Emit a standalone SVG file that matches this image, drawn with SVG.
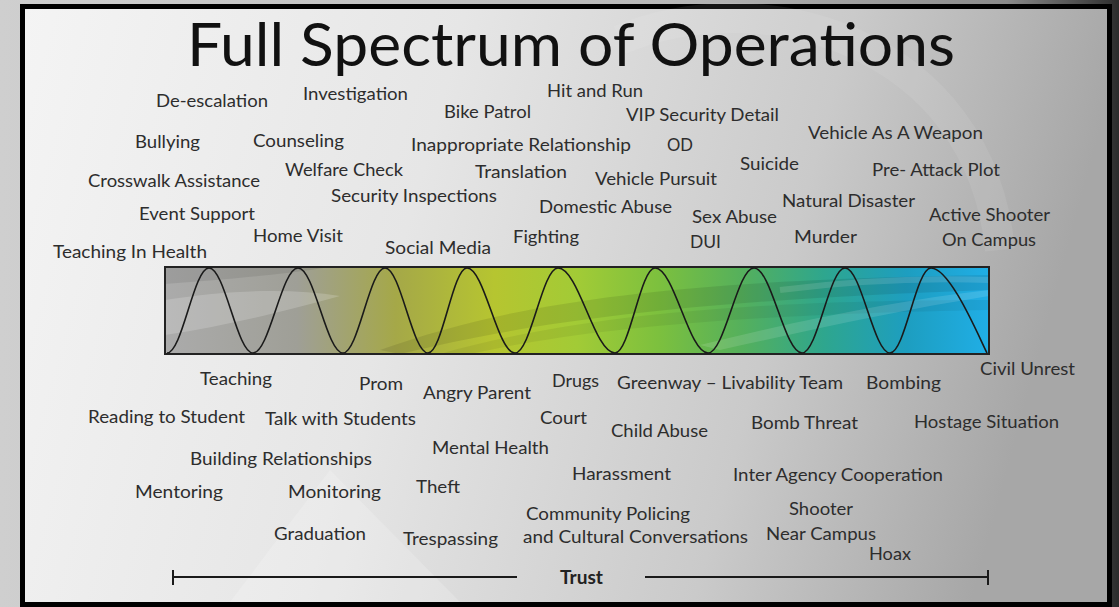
<svg xmlns="http://www.w3.org/2000/svg" width="1119" height="607" viewBox="0 0 1119 607">
<defs>
<linearGradient id="outer" x1="0" y1="0" x2="1" y2="0">
<stop offset="0" stop-color="#cfcfcf"/>
<stop offset="0.6" stop-color="#b8b8b8"/>
<stop offset="0.9" stop-color="#8a8a8a"/>
<stop offset="0.97" stop-color="#4a4a4a"/>
<stop offset="1" stop-color="#2c2c2c"/>
</linearGradient>
<linearGradient id="panel" x1="0" y1="0" x2="1" y2="0.15">
<stop offset="0" stop-color="#f4f4f4"/>
<stop offset="0.4" stop-color="#e6e6e6"/>
<stop offset="0.75" stop-color="#cacaca"/>
<stop offset="1" stop-color="#a7a7a7"/>
</linearGradient>
<linearGradient id="band" x1="165" y1="0" x2="989" y2="0" gradientUnits="userSpaceOnUse">
<stop offset="0" stop-color="#ababab"/>
<stop offset="0.16" stop-color="#9f9f97"/>
<stop offset="0.28" stop-color="#a5a848"/>
<stop offset="0.4" stop-color="#b6c530"/>
<stop offset="0.5" stop-color="#a2cb36"/>
<stop offset="0.6" stop-color="#7cc03e"/>
<stop offset="0.7" stop-color="#55b05c"/>
<stop offset="0.8" stop-color="#2ea68e"/>
<stop offset="0.9" stop-color="#1d9ec0"/>
<stop offset="1" stop-color="#20aee6"/>
</linearGradient>
<clipPath id="bandClip"><rect x="165" y="267" width="824" height="87"/></clipPath>
<style>
.l{font-family:Lato,"Open Sans","Liberation Sans",sans-serif;font-size:18px;fill:#2d2d2d}
.t{font-family:Lato,"Open Sans","Liberation Sans",sans-serif;font-size:60px;fill:#111111}
.b{font-family:Lato,"Open Sans","Liberation Sans",sans-serif;font-size:18px;font-weight:bold;fill:#222222}
.rule{stroke:#1a1a1a;stroke-width:2;fill:none}
</style>
</defs>
<rect x="0" y="0" width="1119" height="607" fill="url(#outer)"/>
<rect x="22.5" y="6.5" width="1087" height="598" fill="url(#panel)" stroke="#000" stroke-width="5"/>
<path d="M620,40 C760,-20 980,40 1000,250" fill="none" stroke="#ffffff" stroke-opacity="0.08" stroke-width="30"/>
<path d="M230,602 L330,470 L460,602 Z" fill="#ffffff" fill-opacity="0.18"/>

<g id="title"><text class="t" x="187" y="66" textLength="768" lengthAdjust="spacingAndGlyphs">Full Spectrum of Operations</text></g>

<g id="spectrum-band">
<rect x="165" y="267" width="824" height="87" fill="url(#band)"/>
<g clip-path="url(#bandClip)">
<path d="M165,300 C230,290 290,288 340,296 C290,310 230,325 165,335 Z" fill="#ffffff" fill-opacity="0.18"/>
<path d="M165,267 L330,267 C280,275 220,280 165,284 Z" fill="#000000" fill-opacity="0.08"/>
<path d="M380,350 C520,300 680,280 989,275 L989,290 C700,300 540,320 400,354 Z" fill="#000000" fill-opacity="0.09"/>
<path d="M440,354 C560,320 720,300 989,300 L989,310 C720,315 580,330 470,354 Z" fill="#000000" fill-opacity="0.06"/>
<path d="M700,345 C800,320 900,300 989,290 L989,296 C900,310 810,330 720,350 Z" fill="#ffffff" fill-opacity="0.12"/>
<path d="M780,290 C860,280 930,278 989,280" fill="none" stroke="#ffffff" stroke-opacity="0.12" stroke-width="6"/>
</g>
<rect x="165" y="267" width="824" height="87" fill="none" stroke="#222222" stroke-width="2"/>
<path d="M167,353 C182.3,353 193.7,268 209,268 C225,268 237,353 253,353 C269.4,353 281.6,268 298,268 C314.4,268 326.6,353 343,353 C358.3,353 369.7,268 385,268 C400.7,268 412.3,353 428,353 C442.2,353 452.8,268 467,268 C484.5,268 497.5,353 515,353 C530.7,353 542.3,268 558,268 C578.7,268 594.3,353 615,353 C629.6,353 640.4,268 655,268 C674.3,268 688.7,353 708,353 C724.7,353 737.3,268 754,268 C771.5,268 784.5,353 802,353 C817.7,353 829.3,268 845,268 C861.4,268 873.6,353 890,353 C904.9,353 916.1,268 931,268 C950,268 978,335 987,353" fill="none" stroke="#1a1a1a" stroke-width="1.6"/>
</g>

<g id="labels-top">
<text class="l" x="156" y="107" textLength="112" lengthAdjust="spacingAndGlyphs">De-escalation</text>
<text class="l" x="303" y="100" textLength="105" lengthAdjust="spacingAndGlyphs">Investigation</text>
<text class="l" x="547" y="97" textLength="96" lengthAdjust="spacingAndGlyphs">Hit and Run</text>
<text class="l" x="444" y="118" textLength="87" lengthAdjust="spacingAndGlyphs">Bike Patrol</text>
<text class="l" x="626" y="121" textLength="153" lengthAdjust="spacingAndGlyphs">VIP Security Detail</text>
<text class="l" x="808" y="139" textLength="175" lengthAdjust="spacingAndGlyphs">Vehicle As A Weapon</text>
<text class="l" x="135" y="148" textLength="65" lengthAdjust="spacingAndGlyphs">Bullying</text>
<text class="l" x="253" y="147" textLength="91" lengthAdjust="spacingAndGlyphs">Counseling</text>
<text class="l" x="411" y="151" textLength="220" lengthAdjust="spacingAndGlyphs">Inappropriate Relationship</text>
<text class="l" x="667" y="151" textLength="26" lengthAdjust="spacingAndGlyphs">OD</text>
<text class="l" x="740" y="170" textLength="59" lengthAdjust="spacingAndGlyphs">Suicide</text>
<text class="l" x="872" y="176" textLength="128" lengthAdjust="spacingAndGlyphs">Pre- Attack Plot</text>
<text class="l" x="88" y="187" textLength="172" lengthAdjust="spacingAndGlyphs">Crosswalk Assistance</text>
<text class="l" x="285" y="176" textLength="118" lengthAdjust="spacingAndGlyphs">Welfare Check</text>
<text class="l" x="475" y="178" textLength="92" lengthAdjust="spacingAndGlyphs">Translation</text>
<text class="l" x="595" y="185" textLength="122" lengthAdjust="spacingAndGlyphs">Vehicle Pursuit</text>
<text class="l" x="331" y="202" textLength="166" lengthAdjust="spacingAndGlyphs">Security Inspections</text>
<text class="l" x="139" y="220" textLength="116" lengthAdjust="spacingAndGlyphs">Event Support</text>
<text class="l" x="539" y="213" textLength="133" lengthAdjust="spacingAndGlyphs">Domestic Abuse</text>
<text class="l" x="782" y="207" textLength="133" lengthAdjust="spacingAndGlyphs">Natural Disaster</text>
<text class="l" x="692" y="223" textLength="85" lengthAdjust="spacingAndGlyphs">Sex Abuse</text>
<text class="l" x="929" y="221" textLength="121" lengthAdjust="spacingAndGlyphs">Active Shooter</text>
<text class="l" x="253" y="242" textLength="90" lengthAdjust="spacingAndGlyphs">Home Visit</text>
<text class="l" x="513" y="243" textLength="66" lengthAdjust="spacingAndGlyphs">Fighting</text>
<text class="l" x="794" y="243" textLength="63" lengthAdjust="spacingAndGlyphs">Murder</text>
<text class="l" x="942" y="246" textLength="94" lengthAdjust="spacingAndGlyphs">On Campus</text>
<text class="l" x="53" y="258" textLength="154" lengthAdjust="spacingAndGlyphs">Teaching In Health</text>
<text class="l" x="385" y="254" textLength="106" lengthAdjust="spacingAndGlyphs">Social Media</text>
<text class="l" x="690" y="248" textLength="31" lengthAdjust="spacingAndGlyphs">DUI</text>
</g>

<g id="labels-bottom">
<text class="l" x="200" y="385" textLength="72" lengthAdjust="spacingAndGlyphs">Teaching</text>
<text class="l" x="359" y="390" textLength="44" lengthAdjust="spacingAndGlyphs">Prom</text>
<text class="l" x="423" y="399" textLength="108" lengthAdjust="spacingAndGlyphs">Angry Parent</text>
<text class="l" x="552" y="387" textLength="47" lengthAdjust="spacingAndGlyphs">Drugs</text>
<text class="l" x="617" y="389" textLength="226" lengthAdjust="spacingAndGlyphs">Greenway – Livability Team</text>
<text class="l" x="866" y="389" textLength="75" lengthAdjust="spacingAndGlyphs">Bombing</text>
<text class="l" x="980" y="375" textLength="95" lengthAdjust="spacingAndGlyphs">Civil Unrest</text>
<text class="l" x="88" y="423" textLength="157" lengthAdjust="spacingAndGlyphs">Reading to Student</text>
<text class="l" x="265" y="425" textLength="151" lengthAdjust="spacingAndGlyphs">Talk with Students</text>
<text class="l" x="540" y="424" textLength="47" lengthAdjust="spacingAndGlyphs">Court</text>
<text class="l" x="611" y="437" textLength="97" lengthAdjust="spacingAndGlyphs">Child Abuse</text>
<text class="l" x="751" y="429" textLength="107" lengthAdjust="spacingAndGlyphs">Bomb Threat</text>
<text class="l" x="914" y="428" textLength="145" lengthAdjust="spacingAndGlyphs">Hostage Situation</text>
<text class="l" x="432" y="454" textLength="117" lengthAdjust="spacingAndGlyphs">Mental Health</text>
<text class="l" x="190" y="465" textLength="182" lengthAdjust="spacingAndGlyphs">Building Relationships</text>
<text class="l" x="572" y="480" textLength="99" lengthAdjust="spacingAndGlyphs">Harassment</text>
<text class="l" x="733" y="481" textLength="210" lengthAdjust="spacingAndGlyphs">Inter Agency Cooperation</text>
<text class="l" x="135" y="498" textLength="88" lengthAdjust="spacingAndGlyphs">Mentoring</text>
<text class="l" x="288" y="498" textLength="93" lengthAdjust="spacingAndGlyphs">Monitoring</text>
<text class="l" x="416" y="493" textLength="44" lengthAdjust="spacingAndGlyphs">Theft</text>
<text class="l" x="526" y="520" textLength="164" lengthAdjust="spacingAndGlyphs">Community Policing</text>
<text class="l" x="789" y="515" textLength="64" lengthAdjust="spacingAndGlyphs">Shooter</text>
<text class="l" x="523" y="543" textLength="225" lengthAdjust="spacingAndGlyphs">and Cultural Conversations</text>
<text class="l" x="766" y="540" textLength="110" lengthAdjust="spacingAndGlyphs">Near Campus</text>
<text class="l" x="274" y="540" textLength="92" lengthAdjust="spacingAndGlyphs">Graduation</text>
<text class="l" x="403" y="545" textLength="95" lengthAdjust="spacingAndGlyphs">Trespassing</text>
<text class="l" x="869" y="560" textLength="42" lengthAdjust="spacingAndGlyphs">Hoax</text>
</g>

<g id="trust-scale">
<path class="rule" d="M173,577 H517 M173,570 V585 M645,577 H988 M988,570 V585"/>
<text class="b" x="560" y="584" textLength="43" lengthAdjust="spacingAndGlyphs">Trust</text>
</g>
</svg>
